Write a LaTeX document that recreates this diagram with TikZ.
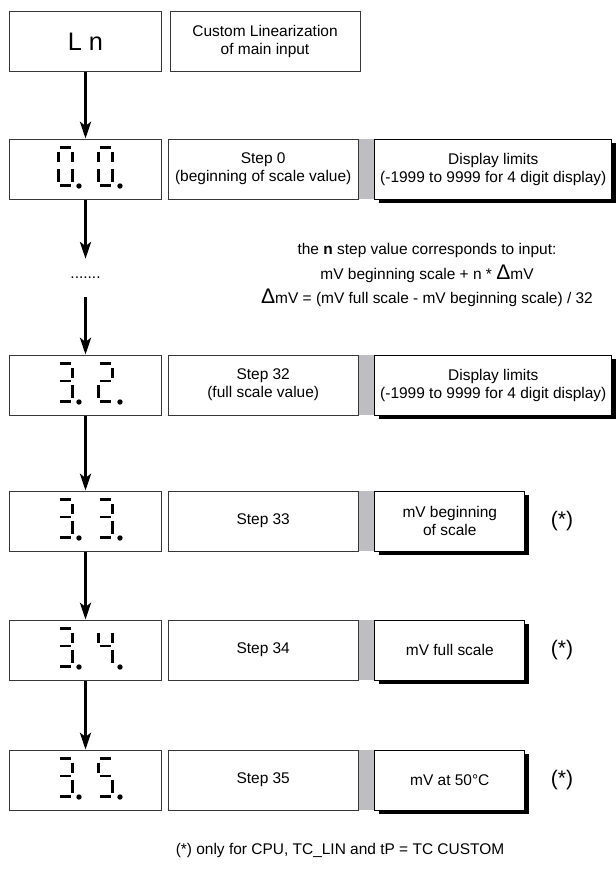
\documentclass[tikz,border=0pt]{standalone}
\usepackage{fontspec}
\setmainfont{Liberation Sans}
\usetikzlibrary{positioning,arrows.meta,shadows}

\definecolor{bargrey}{RGB}{190,190,194}
\definecolor{edgegrey}{RGB}{55,55,55}

% segments of one display digit, origin at the top bar (units are pixels)
\newcommand{\segA}{\draw[segline] (1.5,0) -- (12.5,0);}
\newcommand{\segB}{\draw[segline] (14,4) -- (14,14);}
\newcommand{\segC}{\draw[segline] (14,21.5) -- (14,34.5);}
\newcommand{\segD}{\draw[segline] (1.5,38) -- (12.5,38);}
\newcommand{\segE}{\draw[segline] (0,21.5) -- (0,34.5);}
\newcommand{\segF}{\draw[segline] (0,4) -- (0,14);}
\newcommand{\segG}{\draw[segline] (1.5,17.5) -- (12.5,17.5);}
\newcommand{\bigdelta}{{\fontsize{15}{15}\selectfont Δ}}

% two digits with their points inside a display box
\newcommand{\showdigits}[3]{%
  \begin{scope}[shift={(#1.north west)}]
    \begin{scope}[shift={(49,9)}]
      #2
      \fill (20.5,38.5) circle [radius=2.7];
    \end{scope}
    \begin{scope}[shift={(89,9)}]
      #3
      \fill (21.5,38.5) circle [radius=2.7];
    \end{scope}
  \end{scope}}

\begin{document}
\begin{tikzpicture}[x=0.025cm, y=-0.025cm, font=\fontsize{11}{12.8}\selectfont,
    box/.style={draw=edgegrey, line width=0.7pt, fill=white, minimum height=1.5cm, inner sep=0pt, align=center},
    display/.style={box, minimum width=3.775cm},
    stepbox/.style={box, minimum width=4.75cm},
    gapbar/.style={fill=bargrey, minimum width=0.375cm, minimum height=1.5cm, inner sep=0pt},
    limitbox/.style={box, draw=black, drop shadow={shadow xshift=0.1cm, shadow yshift=-0.1cm, fill=black, opacity=1}},
    widelimit/.style={limitbox, minimum width=5.925cm},
    narrowlimit/.style={limitbox, minimum width=3.75cm},
    segline/.style={line width=1.9pt, line cap=butt},
    flow/.style={line width=1.6pt, -{Stealth[length=12pt, width=8pt, inset=3pt]}},
    onlynote/.style={font=\fontsize{15}{18}\selectfont}]

    \useasboundingbox (0,0) rectangle (616,882);

    \node[display, font=\fontsize{18}{20}\selectfont] (ln) at (85.5,41.5) {L n};
    \node[stepbox, right=0.2cm of ln] (custom) {Custom Linearization\\of main input};

    % step 0
    \node[display] (d0) at (85.5,169) {};
    \node[gapbar] (g0) at (366.5,169) {};
    \node[stepbox, left=0pt of g0] (s0) {Step 0\\(beginning of scale value)};
    \node[widelimit, right=0pt of g0] (l0) {Display limits\\(-1999 to 9999 for 4 digit display)};
    \showdigits{d0}{\segA\segB\segC\segD\segE\segF}{\segA\segB\segC\segD\segE\segF}

    \node[minimum height=0.95cm, inner sep=0pt] (dots) at (85.5,278) {.......};
    \node[align=center, font=\fontsize{11}{17.7}\selectfont] (formula) at (427,275)
        {the \textbf{n} step value corresponds to input:\\
         mV beginning scale + n * \bigdelta mV\\
         \bigdelta mV = (mV full scale - mV beginning scale) / 32};

    % step 32
    \node[display] (d32) at (85.5,385) {};
    \node[gapbar] (g32) at (366.5,385) {};
    \node[stepbox, left=0pt of g32] (s32) {Step 32\\(full scale value)};
    \node[widelimit, right=0pt of g32] (l32) {Display limits\\(-1999 to 9999 for 4 digit display)};
    \showdigits{d32}{\segA\segB\segG\segC\segD}{\segA\segB\segG\segE\segD}

    % steps 33 to 35
    \node[display] (d33) at (85.5,521) {};
    \node[gapbar] (g33) at (366.5,521) {};
    \node[stepbox, left=0pt of g33] (s33) {Step 33};
    \node[narrowlimit, right=0pt of g33] (l33) {mV beginning\\of scale};
    \node[onlynote] (n33) at (562,521) {(*)};
    \showdigits{d33}{\segA\segB\segG\segC\segD}{\segA\segB\segG\segC\segD}

    \node[display] (d34) at (85.5,650) {};
    \node[gapbar] (g34) at (366.5,650) {};
    \node[stepbox, left=0pt of g34] (s34) {Step 34};
    \node[narrowlimit, right=0pt of g34] (l34) {mV full scale};
    \node[onlynote] (n34) at (562,650) {(*)};
    \showdigits{d34}{\segA\segB\segG\segC\segD}{\segF\segB\segG\segC}

    \node[display] (d35) at (85.5,780) {};
    \node[gapbar] (g35) at (366.5,780) {};
    \node[stepbox, left=0pt of g35] (s35) {Step 35};
    \node[narrowlimit, right=0pt of g35] (l35) {mV at 50°C};
    \node[onlynote] (n35) at (562,780) {(*)};
    \showdigits{d35}{\segA\segB\segG\segC\segD}{\segA\segF\segG\segC\segD}

    \node (note) at (340,850) {(*) only for CPU, TC\_LIN and tP = TC CUSTOM};

    \draw[flow] (ln) -- (d0);
    \draw[flow] (d0) -- (dots);
    \draw[flow] (dots) -- (d32);
    \draw[flow] (d32) -- (d33);
    \draw[flow] (d33) -- (d34);
    \draw[flow] (d34) -- (d35);
\end{tikzpicture}
\end{document}
